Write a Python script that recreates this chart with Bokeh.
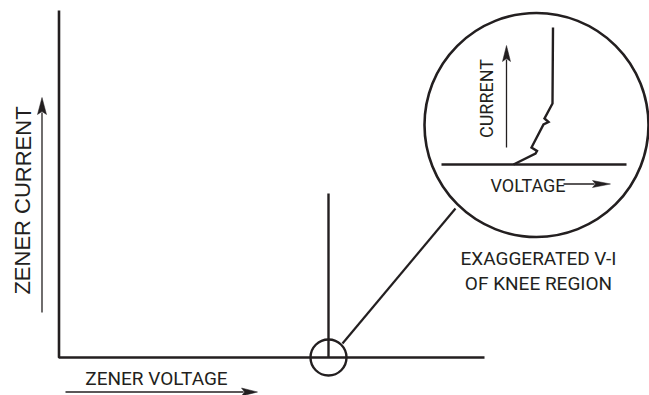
from bokeh.plotting import figure
from bokeh.models import Range1d
from bokeh.core.properties import value
from bokeh.embed import file_html
from bokeh.resources import INLINE

INK = "#231f20"

# ---- diagram geometry (page pixel coordinates) ----
axis_x = [58.5, 58.5, 484]
axis_y = [10, 357, 357]

knee_line_x = [328, 328]
knee_line_y = [193, 357]

small_circle = dict(x=[328], y=[357], r=18)
big_circle = dict(x=[536], y=[124.5], r=112)

leader_x = [342, 455]
leader_y = [343, 208]

inner_axis_x = [441, 626]
inner_axis_y = [164, 164]

knee_curve_x = [513, 535, 536.5, 531, 543, 548, 544, 552, 552.5]
knee_curve_y = [164, 153, 150.5, 147, 124, 121.5, 118, 103, 27]

# arrows: (x0, y0) tail -> (x1, y1) tip, head length, head width
arrows = [
    (41.5, 312, 41.5, 97, 17, 9),     # zener current
    (65, 391.5, 257, 391.5, 16, 8),   # zener voltage
    (506, 147, 506, 45, 16, 8),       # inner current
    (563, 183.5, 610, 183.5, 18, 7),  # inner voltage
]

labels = ["ZENER VOLTAGE", "EXAGGERATED V-I", "OF KNEE REGION", "VOLTAGE"]
labels_x = [156, 538, 538, 527.5]
labels_y = [377.5, 257.5, 282.5, 185]
labels_size = ["19px", "19px", "19px", "18px"]

vlabels = ["ZENER CURRENT", "CURRENT"]
vlabels_x = [22.5, 485.5]
vlabels_y = [200, 98]
vlabels_font = ["Liberation Sans", "Roboto"]
vlabels_size = ["22px", "18px"]

p = figure(width=649, height=395, output_backend="svg", toolbar_location=None,
           x_range=Range1d(0, 649), y_range=Range1d(395, 0),
           min_border=0, outline_line_color=None, background_fill_color="white")
p.axis.visible = False
p.grid.visible = False

p.line(axis_x, axis_y, line_color=INK, line_width=2.6)
p.line(knee_line_x, knee_line_y, line_color=INK, line_width=2.4)
p.line(leader_x, leader_y, line_color=INK, line_width=2.2)
p.line(inner_axis_x, inner_axis_y, line_color=INK, line_width=2.4)
p.line(knee_curve_x, knee_curve_y, line_color=INK, line_width=2.4, line_join="miter")

p.circle(small_circle["x"], small_circle["y"], radius=small_circle["r"],
         fill_color=None, line_color=INK, line_width=2.4)
p.circle(big_circle["x"], big_circle["y"], radius=big_circle["r"],
         fill_color=None, line_color=INK, line_width=2.6)

for x0, y0, x1, y1, hl, hw in arrows:
    dx, dy = x1 - x0, y1 - y0
    L = (dx * dx + dy * dy) ** 0.5
    ux, uy = dx / L, dy / L
    bx, by = x1 - ux * hl, y1 - uy * hl
    px_, py_ = -uy, ux
    p.line([x0, bx + ux * 2], [y0, by + uy * 2], line_color=INK, line_width=1.3)
    p.patch([x1, bx + px_ * hw / 2, bx + ux * 3, bx - px_ * hw / 2],
            [y1, by + py_ * hw / 2, by + uy * 3, by - py_ * hw / 2],
            fill_color=INK, line_color=INK, line_width=0.5)

for t, x, y, s in zip(labels, labels_x, labels_y, labels_size):
    p.text([x], [y], text=[t], text_font=value("Roboto"), text_font_size=value(s),
           text_color=INK, text_align="center", text_baseline="middle")

for t, x, y, f, s in zip(vlabels, vlabels_x, vlabels_y, vlabels_font, vlabels_size):
    p.text([x], [y], text=[t], text_font=value(f), text_font_size=value(s),
           text_color=INK, text_align="center", text_baseline="middle",
           angle=1.5707963)

open("out.html", "w").write(file_html(p, INLINE))
